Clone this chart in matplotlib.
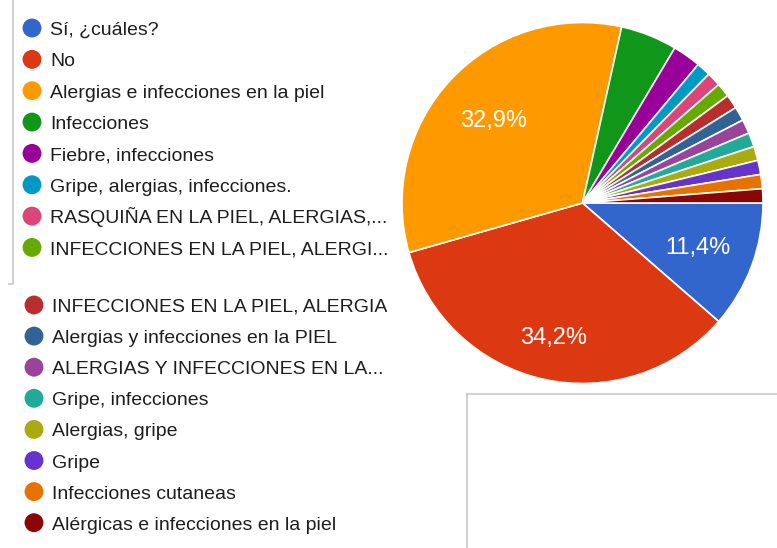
import matplotlib
matplotlib.use("Agg")
import matplotlib.pyplot as plt
from matplotlib.transforms import Bbox, TransformedBbox
import numpy as np

# Survey answers (Google Forms pie), 79 responses
categories = [
    "Sí, ¿cuáles?",
    "No",
    "Alergias e infecciones en la piel",
    "Infecciones",
    "Fiebre, infecciones",
    "Gripe, alergias, infecciones.",
    "RASQUIÑA EN LA PIEL, ALERGIAS,...",
    "INFECCIONES EN LA PIEL, ALERGI...",
    "INFECCIONES EN LA PIEL, ALERGIAS",
    "Alergias y infecciones en la PIEL",
    "ALERGIAS Y INFECCIONES EN LA...",
    "Gripe, infecciones",
    "Alergias, gripe",
    "Gripe",
    "Infecciones cutaneas",
    "Alérgicas e infecciones en la piel",
]
counts = [9, 27, 26, 4, 2, 1, 1, 1, 1, 1, 1, 1, 1, 1, 1, 1]

colors = ["#3366cc", "#dc3912", "#ff9900", "#109618", "#990099", "#0099c6",
          "#dd4477", "#66aa00", "#b82e2e", "#316395", "#994499", "#22aa99",
          "#aaaa11", "#6633cc", "#e67300", "#8b0707"]

W, H = 777, 548
plt.rcParams['font.family'] = ['Liberation Sans', 'DejaVu Sans']

fig = plt.figure(figsize=(W / 100, H / 100), dpi=100)
ax = fig.add_axes([0, 0, 1, 1])

def Y(v):
    return H - v

# pie
cx, cy, r = 582.5, 203, 180.5
wedges, _ = ax.pie(counts, colors=colors, startangle=0, counterclock=False,
                   center=(cx, Y(cy)), radius=r,
                   wedgeprops=dict(edgecolor="white", linewidth=1.2))

total = sum(counts)
label_dist = [0.68, 0.75, 0.68]
for w, c, d in zip(wedges, counts, label_dist):
    ang = np.deg2rad((w.theta1 + w.theta2) / 2)
    txt = f"{100 * c / total:.1f}%".replace(".", ",")
    ax.text(cx + d * r * np.cos(ang), Y(cy) + d * r * np.sin(ang), txt,
            color="white", fontsize=17, ha="center", va="center_baseline")

# legend, split in two blocks like the screenshot
clip = TransformedBbox(Bbox([[0, 0], [387, H]]), ax.transData)
for i, (lab, col) in enumerate(zip(categories, colors)):
    if i < 8:
        my, mx, tx = 28 + 31.35 * i, 32, 50
    else:
        my, mx, tx = 305 + 31.1 * (i - 8), 34, 52
    ax.scatter([mx], [Y(my)], s=185, color=col, edgecolors="none", zorder=3)
    t = ax.text(tx, Y(my + 7), lab, fontsize=14, color="#1e1e1e",
                ha="left", va="baseline")
    t.set_clip_box(clip)
    t.set_clip_on(True)

# leftover frame lines from the screenshot
gray = "#c4c4c4"
ax.plot([13, 13, 9], [Y(0), Y(284), Y(284)], color=gray, lw=1.1)
ax.plot([467, 467], [Y(H), Y(394)], color=gray, lw=1.1)
ax.plot([467, W], [Y(394), Y(394)], color=gray, lw=1.1)

ax.set_xlim(0, W)
ax.set_ylim(0, H)
ax.set_aspect("equal", adjustable="datalim")
ax.axis("off")

fig.savefig("out.png", dpi=100)
